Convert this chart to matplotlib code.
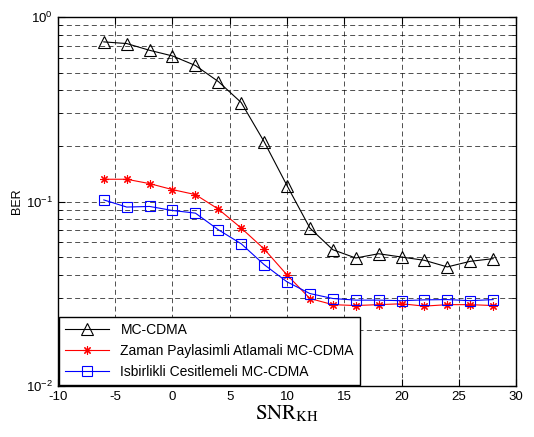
import numpy as np
import matplotlib.pyplot as plt

plt.rcParams['font.family'] = ['Liberation Sans', 'DejaVu Sans']
plt.rcParams['mathtext.fontset'] = 'stix'
plt.rcParams['axes.unicode_minus'] = False

snr = [-6, -4, -2, 0, 2, 4, 6, 8, 10, 12, 14, 16, 18, 20, 22, 24, 26, 28]
ber_mc = [0.733, 0.718, 0.66, 0.615, 0.546, 0.447, 0.344, 0.211, 0.122, 0.0718,
          0.0548, 0.0494, 0.0521, 0.050, 0.048, 0.0442, 0.0474, 0.049]
ber_zaman = [0.132, 0.132, 0.125, 0.116, 0.109, 0.091, 0.0718, 0.0553, 0.040, 0.0298,
             0.0276, 0.0273, 0.0276, 0.0279, 0.0271, 0.0276, 0.0276, 0.0273]
ber_isb = [0.102, 0.0933, 0.094, 0.0894, 0.0865, 0.0703, 0.059, 0.0455, 0.0367, 0.0317,
           0.0298, 0.0292, 0.0292, 0.029, 0.0293, 0.0294, 0.029, 0.0294]
labels = ["MC-CDMA", "Zaman Paylasimli Atlamali MC-CDMA", "Isbirlikli Cesitlemeli MC-CDMA"]

fig = plt.figure(figsize=(5.34, 4.37), dpi=100)
ax = fig.add_axes([0.1086, 0.1167, 0.8577, 0.8444])

ax.semilogy(snr, ber_mc, color='black', lw=0.8, marker='^', ms=8, mfc='none', mew=0.8, label=labels[0])
ax.semilogy(snr, ber_zaman, color='red', lw=0.8, marker=(8, 2, 0), ms=6, mew=0.8, label=labels[1])
ax.semilogy(snr, ber_isb, color='blue', lw=0.8, marker='s', ms=7, mfc='none', mew=0.8, label=labels[2])

ax.set_xlim(-10, 30); ax.set_ylim(1e-2, 1)
ax.set_xticks(np.arange(-10, 31, 5))
ax.grid(True, which='both', color='black', ls=(0, (6, 4)), lw=0.6, alpha=0.8)
ax.tick_params(which='both', direction='in', top=True, right=True, labelsize=9.5)
ax.tick_params(which='major', length=5)
ax.tick_params(which='minor', length=3)
for s in ax.spines.values():
    s.set_linewidth(1.0)

ax.set_ylabel("BER", fontsize=9, labelpad=2)
ax.set_xlabel(r"$\mathrm{SNR}_{\mathrm{KH}}$", fontsize=15, labelpad=0)

leg = ax.legend(loc='lower left', fontsize=10, fancybox=False, edgecolor='black', framealpha=1,
                borderaxespad=0.05, handlelength=3.2, labelspacing=0.5, borderpad=0.45)
leg.get_frame().set_linewidth(1.0)

fig.savefig("out.png", dpi=100)
